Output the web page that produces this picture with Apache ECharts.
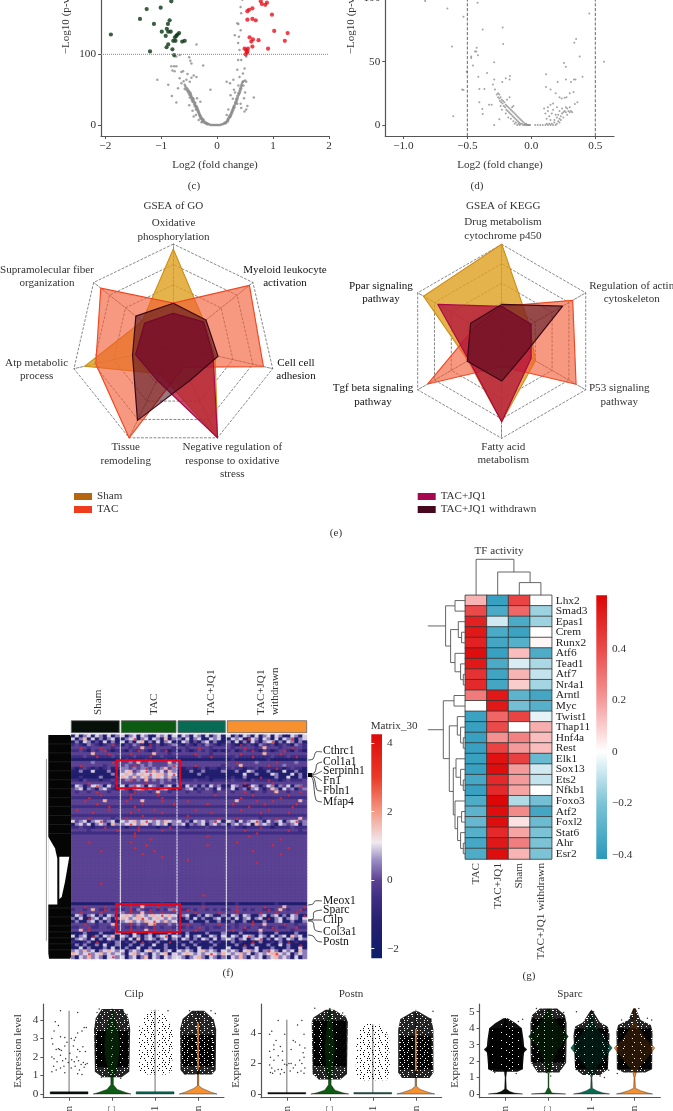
<!DOCTYPE html>
<html><head><meta charset="utf-8">
<style>html,body{margin:0;padding:0;background:#fff}#c{width:673px;height:1111px}</style>
<script src="https://cdn.jsdelivr.net/npm/echarts@6/dist/echarts.min.js"></script></head>
<body><div id="c"></div>
<script>
// ---------- volcano (c)
const cDown=[[-1.9,128],[-1.38,150],[-1.26,164],[-1.01,166],[-.82,175],[-1.13,143],[-.85,148],[-.88,143],[-.99,132],[-.9,136],[-.875,132],[-.83,132],[-.92,126],[-.68,130],[-.71,128],[-.73,126],[-.755,124],[-.785,119],[-.745,119],[-.625,118],[-.58,119],[-.875,114],[-.905,110],[-.8,107],[-1.2,104],[-.77,99]];
const cUp=[[.54,161],[.57,163],[.63,165],[.78,175],[.8,171],[.86,170],[.89,173],[.98,156],[.54,149],[.63,150],[.69,148],[1.02,133],[1.26,130],[1.21,119],[.58,124],[.64,121],[.61,118],[.74,120],[.63,111],[.91,108],[.49,108],[.55,108],[.52,106],[.54,104],[.51,100],[.53,102]];
const cGrey=[[-.12,0],[-.14,1],[-.16,1],[-.17,2],[-.18,1],[-.19,3],[-.2,2],[-.21,4],[-.22,3],[-.23,5],[-.24,6],[-.25,4],[-.25,8],[-.26,7],[-.27,9],[-.27,6],[-.28,10],[-.29,12],[-.29,9],[-.3,13],[-.3,10],[-.31,15],[-.31,12],[-.32,14],[-.32,17],[-.33,16],[-.33,19],[-.34,18],[-.34,21],[-.35,20],[-.35,23],[-.36,22],[-.36,25],[-.37,24],[-.37,27],[-.38,26],[-.38,22],[-.39,28],[-.39,31],[-.4,30],[-.4,26],[-.41,33],[-.41,29],[-.42,32],[-.42,36],[-.43,34],[-.43,38],[-.44,33],[-.44,37],[-.45,39],[-.45,35],[-.46,41],[-.46,37],[-.47,40],[-.47,44],[-.48,42],[-.48,46],[-.49,44],[-.49,39],[-.5,47],[-.5,43],[-.51,48],[-.52,46],[-.52,50],[-.53,48],[-.54,52],[-.55,50],[-.56,53],[-.57,55],[-.58,51],
[-.1,0],[-.08,0],[-.06,0],[-.04,0],[-.02,0],[0,0],[.02,0],[.04,0],[.06,0],[.08,1],[.1,1],[.12,2],[.13,3],[.14,2],[.15,4],[.16,3],[.17,5],[.18,6],[.19,8],[.19,5],[.2,9],[.2,7],[.21,11],[.22,10],[.22,13],[.23,12],[.24,15],[.24,12],[.25,17],[.25,14],[.26,19],[.26,16],[.27,21],[.27,18],[.28,23],[.28,20],[.29,25],[.29,22],[.3,27],[.3,24],[.31,28],[.31,25],[.32,31],[.33,30],[.33,33],[.34,32],[.34,36],[.35,34],[.35,38],[.36,36],[.36,41],[.37,39],[.38,42],[.38,45],[.39,44],[.4,48],[.4,45],[.41,51],[.41,47],[.42,53],[.42,50],[.43,56],[.43,52],[.44,58],[.44,55],[.45,60],[.46,61],[.47,62],
[-.37,114],[-.76,97],[-.73,97],[-.67,99],[-.5,96],[-.48,91],[-.46,87],[-.25,84],[-.82,83],[-.77,83],[-.73,83],[-.8,77],[-.76,76],[-.64,75],[-.61,76],[-1.07,64],[-.875,57],[-.81,41],[-.73,32],[-.12,50],[-.55,64],[-.49,61],[-.46,67],[-.37,68],[-.67,66],[-.64,59],[-.58,57],[-.7,52],[-.6,62],[-.53,72],[-.42,70],[-.28,4],[-.42,12],[-.44,20],[-.5,28],[-.36,38],[-.3,33],[-.38,14],[-.33,7],
[.655,39],[.52,22],[.43,24],[.49,19],[.29,64],[.23,59],[.17,61],[.4,68],[.46,73],[.36,78],[.49,80],[.375,92],[.43,92],[.52,97],[.4,106],[.375,116],[.315,127],[.39,125],[.42,134],[.38,143],[.36,144],[.43,158],[.42,167],[.45,177],[.5,63],[.47,56],[.52,61],[.38,56],[.3,50],[.24,42],[.36,30],[.48,38],[.42,30],[.54,27],[.2,22],[.17,14],[.32,46],[.28,37],[.5,46]];
// ---------- volcano (d)
const dGrey=[[-.83,98],[-.656,92],[-.53,85.5],[-.42,96.6],[-.38,75.5],[-.224,77],[-.22,64],[-.62,62],[.453,88],[.35,68],[.336,65],[.378,54],[.568,50],[.255,49],[.27,46],[-.427,61],[-.44,58],[-.43,58],[-.417,55],[-.47,54],[-.47,53],[-.456,47],[-.29,49.5],[-.505,42],[-.346,41],[-.414,38],[-.29,36],[-.54,28],[-.53,27.6],[-.406,28.4],[-.367,28.4],[-.406,18],[-.383,12.6],[-.38,8.7],[-.61,7],[-.29,0],[-.33,16],[-.31,16],[-.25,4.5],[.115,40],[.206,34],[.115,30],[.15,28],[.27,36],[.333,36],[.345,36],[.31,34],[.4,38],[.33,26],[.3,25],[.19,25],[.22,22],[.26,21.6],[.275,22],[.237,21],[.36,18],[.34,16.6],[-.2,37],[-.167,38.7],[-.17,36],[-.227,34],[-.3,32],[-.284,28],
[-.27,24],[-.26,25],[-.26,22],[-.25,24],[-.25,21],[-.245,19],[-.24,22],[-.235,18],[-.23,20],[-.225,17],[-.22,19],[-.215,15],[-.21,18],[-.205,14],[-.2,16],[-.195,12],[-.19,15],[-.185,11],[-.18,14],[-.175,10],[-.17,13],[-.165,9],[-.16,12],[-.155,8],[-.15,11],[-.145,7],[-.14,10],[-.135,6],[-.13,9],[-.125,5],[-.12,8],[-.115,4],[-.11,7],[-.105,3],[-.1,6],[-.095,2],[-.09,5],[-.085,1],[-.08,4],[-.075,1],[-.07,3],[-.065,0],[-.06,2],[-.055,0],[-.05,1],[-.045,0],[-.04,1],[-.035,0],[-.03,0],[-.025,0],[-.02,0],[-.015,0],[-.01,0],[-.14,3],[-.12,2],[-.1,1],[-.16,5],[-.2,9],[-.23,12],[-.11,0],[-.13,1],[-.09,0],[-.17,22],[-.15,14],[-.14,15],[-.24,15],[-.19,20],[-.18,6],
[.03,0],[.05,0],[.07,0],[.09,0],[.11,0],[.12,1],[.13,0],[.14,1],[.15,0],[.16,1],[.17,0],[.18,2],[.19,0],[.2,1],[.21,3],[.22,5],[.23,7],[.24,9],[.25,10],[.26,11],[.27,10],[.28,13],[.29,11],[.3,10],[.31,11],[.32,10],[.22,2],[.2,6],[.21,8],[.23,4],[.18,4],[.19,8],[.17,12],[.16,9],[.15,4],[.14,7],[.13,11],[.12,5],[.11,9],[.1,13],[.25,6],[.27,14],[.24,13],[.28,8],[.3,14],[.22,11],[.2,14],[.15,16],[.17,17],[.13,14]];
const xNames=['Sham','TAC','TAC+JQ1','TAC+JQ1 withdrawn'];
// ---------- radars
const goAxes=['Oxidative phosphorylation','Supramolecular fiber organization','Atp metabolic process','Tissue remodeling','Negative regulation of response to oxidative stress','Cell cell adhesion','Myeloid leukocyte activation'];
const goSham=[.95,.39,.89,.3,1,.42,.385];
const goTac=[.42,.91,.78,1,.23,.907,.955];
const goJq1=[.32,.36,.38,.37,1,.4,.38];
const goWd=[.42,.47,.41,.81,.375,.45,.41];
const keggAxes=['Drug metabolism cytochrome p450','Ppar signaling pathway','Tgf beta signaling pathway','Fatty acid metabolism','P53 signaling pathway','Regulation of actin cytoskeleton'];
const keggSham=[1,.93,.4,.83,.4,.33];
const keggTac=[.36,.31,.88,.26,.885,.845];
const keggJq1=[.36,.76,.39,.83,.35,.35];
const keggWd=[.38,.37,.41,.41,.27,.725];
// ---------- heatmap (f): one character per cell, one chunk per group, short chunks repeat their last character
const fKey={n:-1.4,d:-.5,p:0,l:.45,w:.95,s:1.7,r:3.8};
const fCells=[12,14,12,20];
const fTicks=[-2,0,2,4];
const fRows=[
"nwnlwnwlnwnl wnlwnwlnnwlwnw nwlnwlnwnlwn wnlnwlnwnlwnwlnnwlnw",
"wnlsnwnlnlwn nlwrnlwnwlnsnl lnwnlwnnwlwn nwlwnrwlnwlnwnwlrnlw",
"nlnwlnpnwnln wnlnwsnlnwnlwn nwlnpnlwnlnn lnwnlnwpnlwrnlnwlnln",
"dpdnlpdndprd npdlpdnrdpndpl dnpdnpdlpdnd pdnrdpdnlpdpndpdnlpd",
"pprpdpprppdp ppdppsppdppppd ppdpprppdppp pdpprppdpspppdpprppd",
"ddpdnpdprdnd dnpdrpdndpdrnd npdndpdpdndn dpndpdrdnpdndprdnpdn",
"pppppsppprpp pprpppppspppdp pppprpppdppp ppprpppppsppprpppppp",
"dddpddrdddpd dddpdddrddpddd dddddpddrddd ddpdddrddddpdddpdrdd",
"nnnnnnnnnnnn ndnnnndnnnndnn nnnnnnnnnnnn ndnnnnnnnndnnnnnnnnn",
"ppppplpppprp pplpspplppppsp pppppppppppp pprpppplpppprpppplpp",
"pprpppppdppp plprplplpppplr pppprppppppd pppspppppprppplppppp",
"dndpdndndpnd llplplrplplspl dnddndpnddnd dpddnddpndddrdndpddn",
"nnlnnwnnnlnn lwsplwrlslwpsl nnnlnnlnnnnl nnlnnwlnnnlnnnwnnlnn",
"nnnnnnnnnnln wswlwswrwsslwr nnnnnlnnnnnn nnnnwnnlnnnwlnnnwnln",
"nndnnnnlnnnd swlslwslwswlsl nnnnnnndnnnn ndnnlnnnrnnnlnnwnnln",
"ddnpdddnddpd plrplpsplplpld ddddpdddnddd dpdddnpdddrddndpdddp",
"pppprpppppdp pppppprppplppp pppppppppppp pppprpppppprpppppppp",
"nwlnpwrlnwpn wnlrwlnwlpnlwn lnwplnlnwpln nwlpnrwlnpwlnlpwnlrp",
"plwnlpnlwpdn lpnlwrplpnlwpn nplwnpdlpnwd pwnplnlwpnpslnwplnpl",
"pdppdprppdpp ppdrpppdpsppdp ppdppdpppdpp pdpprpdppdppsppdpprp",
"ppppppprpppp pprpppppprpppp ppppppppprpp pppppprpppppppprpppp",
"ddddrddddddd ddrdddddddrddd dddddddddddd dddrdddddddddrdddddd",
"ppprppppsppp prpppspppprppp pprppppppppp ppspppprppprppppppsp",
"pppppprppppp ppppprpppppppr ppppppprpppp prppppppprppppppprpp",
"dddddddddrdd dddrdddddddddd dddddddddddd dddddrddddddddddrddd",
"prppppppprpp pppprppprppppp pppprppppppp ppprpppppprppppppppp",
"ppppprpppppp pprppppppprppp pppppppprppp pppppppprpppppprpppp",
"dddddddddddd dddddrdddddddd ddrddddddddd dddddddddddddddddddd",
"pppprpppppdp prpppppprppppp pppppppppprp pprpppppdppprpppppsp",
"wplwnlwrplwn wlwslwrwlwlswl wplnwlwplrwn wlnwplwrlnwplwnlwrpl",
"nlwpwnlwlnsl lwrwlswplwlwnl lwnlplwnlwpl nlwplwnslwlpnwlplwnl",
"ddpddnddrddd dnddrddddnddrd ddnddddpdddd dpddndddrddnddddpddd",
"ppppdppppppr pppprppppprppp pppppppppppp pppprpppppppppprppdp",
"dddddddddddd dddrdddddddddd dddddddddddd dddddddrdddddddddddd",
"pppppppppppp ppprpppp ppppppprpp ppppprpppppppppp",
"pppppppppppp ppppppprp pppppppppp ppppppppppppprppp",
"pppprppppppp pprpppppp pppppppppp pprpppppp",
"pppppppppppp pppppprppp ppppppprppp ppppppppppprp",
"pppppppppppp ppprp pppppppp ppppppppppppppprp",
"ppppppprpppp pppppppprp pp pppppprp",
"p ppppprp p ppppppppppppprp",
"p pppppppppprp p p",
"p p pprp p",
"p p p ppppppprp",
"p p p p","p p p p",
"p p ppppp p",
"p p p p","p p p p","p p p p",
"ppppppprp p p p",
"p p p p","p p p p","p p p p",
"p p pppppprp p",
"p p p p","p p p p",
"nnnnnnnnnnnd nndnnnnnnndnnn nnnnnndnnnnn nndnnnnnnnnndnnnnnnn",
"ppprpppprppp pprppsppprpprp pppppprppppp pprpppppprppppsppppr",
"dppdpspdrpdd dprdlpdrpdpdlr pdrpdppdpdpd dprpdpdppdrdpspdpprd",
"pprpppprpppp lprppsprpprppp pppprppppprp pprppppprppprpppprpp",
"nwlnlwnlnwln wswlswlwswrwsw nlwnnlnwlnnl nwlnwlnnlwnlwnlnwlnr",
"lnwnrlwnwlnl swlwsrwlwswlwl nnlnwnlnnlwn lnwnlwnlwnrnlwnlwlnw",
"nlnnlwnlnlnn lwslwlswrwlslw nnnlnnnlnnln nlnnlnrnnlnnlwnnlnnl",
"ppprppdpppsp pprplppsrppplp pprpppdppprp ppdppprppspppprppdpp",
"ddpprddppdpd pdrdpdpdrpdppd ddpdprpdpddp dpdprdppdpdrpddpprdd",
"ppsprpppppdp pprpppsprppprp pppprppdpppp prppdpppsppprpppdppp",
"nnnlnnnlnnnl nnnwnnnlnnnnln nnlnnnnlnnnl nnnlnnnnlnnnlnnnnlnn",
"wnlwnrlnwlsn wlnwlnlwnlwrnw lnwnlwnnwlnw nwlnwrlnwlnwnlwnslwn",
"nlwlnwnlnwln lnwnsnlwlnlwnl nwlnlnwlnwnl wlnlwnlwrnlnwlnwlnwl",
"dnndlnrnndnl ndnlnrndnlnnrn dnnlndnnlndn nlndnnrnlnndnlnrndnn",
"nlnlnnlnwnnl nnlnnlnnwnnlnn nlnnlnnnnlnn nnlnrnlnnnlnnwnlnnrn",
"nnwnlnnnlnwn nlnnwnnlnnnlnn nnlnnwnnlnnn wnnnlnnwnnnlnnnlnnwn",
"lwlslwnlwswl wnlwlnwslwnlwn wlwlnwslwlnw lwlnwslwnlrwlnwlwnsl",
"swlwrlwslwlw lnwslwlnwlwsnw lwswlwlwrwls wlwslwnlwlwsrwlwnlwl",
"lnwlslwlnwrl wnlwnlsnwlnwlw wlnlwslnwlnl nwlslnwlwnlwslwlnwnl"];
const dendroCut=[[2.7,0],[1,0],[0,.6],[0,74.4],[1,75],[22,75],[22.7,73],[22.7,0]];
const dendroGapA=[[22.9,34],[16,38],[13.7,41.4],[13.7,56.8],[22.9,56.8]];
const dendroGapB=[[11.7,40.8],[1.7,40.8],[6,49.2],[9.3,54.3],[11.7,55]];
const dendroStripes=[3,6,9,12,15,18,21,24,27,30,33,58,61,64,66,68,70,72];
// ---------- heatmap (g)
const tfNames=['Lhx2','Smad3','Epas1','Crem','Runx2','Atf6','Tead1','Atf7','Nr4a1','Arntl','Myc','Twist1','Thap11','Hnf4a','Rest','Elk1','Sox13','Ets2','Nfkb1','Foxo3','Atf2','Foxl2','Stat6','Ahr','Esr2'];
const tfCols=['TAC','TAC+JQ1','Sham','TAC+JQ1 withdrawn'];
const tfTac=[.15,.4,.52,.55,.52,.58,.55,.47,.5,.28,0,-.37,-.38,-.38,-.38,-.38,-.38,-.34,-.38,-.32,-.28,-.26,-.3,-.34,-.32];
const tfJq1=[-.38,-.33,-.07,-.33,-.35,-.38,-.33,-.36,-.35,.55,.55,.33,.4,.22,.42,.57,.58,.5,.5,.6,.58,.58,.5,.55,.58];
const tfSham=[.42,.33,-.33,-.37,-.3,.13,-.06,.15,.1,-.28,-.22,.42,0,.26,.2,.43,.2,.2,.18,-.12,.24,.06,.18,.27,.15];
const tfWd=[0,-.15,-.15,0,.02,-.32,-.13,-.09,-.14,-.35,-.3,-.04,.16,.13,.13,-.25,-.07,-.09,0,-.22,-.35,-.24,-.2,-.2,-.2];
const gTicks=[-.4,-.2,0,.2,.4];
// hclust-style merges: negative = leaf row, positive = earlier merge (1-based); last value = height
const rowMerges=[[-4,-5,3.7],[-3,1,7],[-8,-9,2],[-7,3,4.7],[-6,4,10.3],[2,5,14.7],[-1,-2,10.3],[7,6,19.7],[-10,-11,11.3],[-14,-15,2],[-13,10,4.7],[-12,11,8],[-18,-19,2],[-17,13,4.7],[-16,14,9.3],[-21,-22,3.7],[-24,-25,2],[-23,17,4.7],[16,18,7.7],[-20,19,10.3],[15,20,12],[12,21,16],[9,22,22]];
const rowStemHeight=37.5;
const colMerges=[[-3,-4,12.7],[-2,1,23.3],[-1,2,36]];
// ---------- violins (level, half-width) per group
const violinCilp=[[[0,.44],[.12,.44],[.12,0]],[[0,.44],[.08,.32],[.25,.12],[.5,.03],[.9,.03],[1.2,.08],[2,.16],[2.7,.18],[3.4,.14],[4,.05],[4.6,.01]],[[0,.44],[.12,.44],[.12,0]],[[0,.44],[.1,.3],[.3,.1],[.45,.015],[1.3,.015],[1.6,.02],[3.8,.02],[3.9,0]]];
const violinPostn=[[[0,.44],[.1,.44],[.1,0]],[[0,.44],[.08,.3],[.25,.12],[.6,.03],[1,.03],[1.5,.08],[3,.12],[4.5,.07],[5.1,.03],[5.6,.01]],[[0,.44],[.1,.44],[.1,0]],[[0,.44],[.1,.3],[.3,.1],[.5,.015],[1.5,.015],[1.8,.02],[4.2,.02],[4.3,0]]];
const violinSparc=[[[0,.4],[.06,.2],[.15,.1],[.3,.02],[1,.01],[1.4,.03],[2,.2],[2.7,.5],[3.4,.2],[4,.06],[4.6,.01]],[[0,.4],[.06,.08],[.2,.05],[.4,.01],[1.2,.01],[1.7,.06],[2.6,.2],[3.5,.46],[4.3,.2],[4.8,.08],[5.2,.01]],[[0,.42],[.08,.25],[.2,.12],[.35,.02],[1,.01],[1.4,.06],[2.2,.3],[2.8,.48],[3.4,.3],[4,.14],[4.3,.05],[5.1,.01]],[[0,.42],[.07,.3],[.2,.14],[.35,.02],[1,.01],[1.4,.05],[2.2,.3],[2.8,.47],[3.4,.25],[4,.12],[4.4,.03],[5.2,.01]]];
const spikeCilp=[4.5,0,4.55,4.5], spikePostn=[4.85,0,4.55,5.5], spikeSparc=[0,0,0,0];
const cloudCilp=[null,[[.9,.22],[1.2,.4],[3.5,.42],[4.1,.38],[4.6,.24]],[[1.05,.28],[1.3,.4],[3.4,.41],[3.9,.32],[4.5,.12]],[[1.05,.32],[1.3,.41],[3.5,.42],[4.05,.36],[4.5,.14]]];
const coreCilp=[null,[[1.45,.38],[3.4,.38]],[[1.45,.38],[1.8,.38]],[[1.5,.38],[3.2,.38]]];
const cloudPostn=[null,[[.95,.25],[1.3,.4],[4.7,.42],[5.0,.38],[5.5,.1]],[[.9,.32],[1.3,.4],[3.6,.38],[4.2,.3],[4.6,.12]],[[1.05,.32],[1.4,.41],[4.2,.41],[4.9,.36],[5.4,.05]]];
const corePostn=[null,[[1.8,.38],[4.8,.38]],[[1.3,.38],[2.4,.38]],[[1.6,.38],[3.8,.36]]];
const cloudSparc=[[[1.35,.28],[1.5,.4],[2.2,.42],[2.7,.44],[3.3,.42],[4,.38],[4.3,.24],[4.6,.05]],[[1.3,.25],[1.9,.41],[3,.42],[4.3,.42],[4.8,.38],[5.2,.2]],[[1.15,.2],[1.5,.38],[3.6,.42],[4.1,.38],[4.35,.2],[5.05,.03]],[[1.3,.25],[1.5,.41],[3.8,.42],[4.2,.38],[4.5,.14],[5.2,.03]]];
const coreSparc=[[[1.5,.4],[4,.36]],[[1.9,.38],[4.6,.38]],[[1.5,.38],[4,.38]],[[1.5,.38],[4,.38]]];
const pointsCilp=[[-.2,4.5],[.2,4.4],[-.35,3.4],[-.25,3.7],[.35,3.6],[.2,3.3],[.3,3.4],[.4,3.6],[-.4,3],[-.2,3.1],[-.1,3.05],[.05,3],[.15,3.05],[-.38,2.7],[-.3,2.4],[-.25,2.45],[-.22,2.4],[-.18,2.35],[-.1,2.6],[.1,2.6],[.2,2.4],[.25,2.3],[.32,2.55],[.38,2.3],[-.4,2],[-.35,1.9],[-.28,1.75],[-.2,2.1],[-.15,1.8],[-.08,1.9],[-.02,1.7],[.06,1.85],[.12,1.75],[.18,2],[.22,1.8],[.28,1.6],[.33,1.7],[.38,1.6],[.42,1.65],[-.4,1.2],[-.36,1.5],[-.3,1.3],[-.2,1.4],[-.12,1.5],[-.1,1.15],[.05,1.4],[.14,1.5],[.2,1.1],[.24,1.3],[.3,1.05],[.35,1.45],[-.32,3.9],[-.05,2.8],[.02,2.2],[.12,2.9],
[.7,4.6],[1.25,4.55],[1.35,4.3],[.65,4.4],[2.3,4.5],[3.3,4.5],[2.8,4.5],[.75,.9],[1.2,.85],[.9,.95],[2.7,1.1],[3.1,4.3],[3.4,4.35],[2.85,4.2],[2.95,4.4]];
const pointsPostn=[[-.2,4.8],[.25,4.5],[.35,4.8],[-.35,4.1],[-.4,3.9],[-.05,3.9],[.4,3.9],[-.3,3.2],[-.25,3.5],[-.15,3.1],[.15,3.5],[.2,3.4],[.3,3.2],[-.4,2.8],[-.3,2.9],[-.1,2.8],[.1,2.9],[.38,2.7],[.42,3],[-.38,2.4],[-.3,2.2],[-.2,2.5],[-.1,2.2],[-.05,1.95],[0,1.9],[.05,2],[.1,2],[.2,1.9],[.3,2.2],[.35,2],[.4,2.4],[-.4,1.9],[-.35,1.7],[-.38,1.4],[-.33,1.35],[-.28,1.5],[-.2,1.6],[-.12,1.6],[-.06,1.4],[.08,1.5],[.15,1.7],[.25,1.4],[.33,1.5],[.4,1.35],[.42,1.7],[-.15,1.3],
[.65,5.6],[1.3,5.3],[1.35,5.1],[.75,1],[1.2,1.05],[3.1,5],[3.4,5.4],[2.75,5],[3.35,4.9]];
const pointsSparc=[[-.35,3.9],[.3,4.4],[.4,4.55],[1.2,5.1],[.72,5.2],[1.35,4.95],[.85,5],[1.05,1.1],[.95,1.3],[1.2,1.45],[1.65,5],[2.05,5],[2.2,1.1],[2.3,1],[2.1,1.35],[2.4,1.45],[2.7,4.5],[2.95,4.6],[3.1,5.2],[3.3,4.6],[3.4,4.5],[2.6,1.25],[3.2,1.45],[-.25,1.3],[.25,1.25]];
const groupColors=['#061009','#0d5a12','#076b53','#f7902f'];
const overlayLow=[0,.35,.35,.85], overlayHigh=[0,.22,.2,.15];

// ---------- helpers
const FONT='"Liberation Serif",serif', INK='#333', MINUS=v=>String(v).replace('-','\u2212');
const grid=[],xAxis=[],yAxis=[],series=[],graphic=[];
function addGrid(r,x,y){grid.push(Object.assign({outerBoundsMode:'none',containLabel:false},r));xAxis.push(Object.assign({gridIndex:grid.length-1},x));yAxis.push(Object.assign({gridIndex:grid.length-1},y));return grid.length-1;}
const HID={type:'value',show:false};
function txt(x,y,t,o){o=o||{};graphic.push({type:'text',x,y,rotation:o.rot||0,silent:true,z:50,style:{text:t,font:(o.w||'normal')+' '+(o.size||11.1)+'px '+FONT,fill:o.fill||INK,align:o.align||'center',verticalAlign:'middle',lineHeight:o.lh||13.4}});}
function hexLerp(a,b,t){const p=h=>[1,3,5].map(i=>parseInt(h.substr(i,2),16));const A=p(a),B=p(b);return 'rgb('+A.map((v,i)=>Math.round(v+(B[i]-v)*t)).join(',')+')';}
function ramp(stops,v){if(v<=stops[0][0])return stops[0][1];for(let i=1;i<stops.length;i++)if(v<=stops[i][0])return hexLerp(stops[i-1][1],stops[i][1],(v-stops[i-1][0])/(stops[i][0]-stops[i-1][0]));return stops[stops.length-1][1];}
function poly(gi,list,z,extra){series.push(Object.assign({type:'custom',xAxisIndex:gi,yAxisIndex:gi,z:z||2,silent:true,data:list.map((s,i)=>[i]),renderItem:(p,api)=>{const s=list[p.dataIndex];return {type:'polygon',shape:{points:s.pts.map(q=>api.coord(q))},style:Object.assign({fill:s.fill,stroke:s.stroke||null,lineWidth:s.lw||0,opacity:s.op==null?1:s.op},s.decal?{decal:s.decal}:{})};}},extra||{}));}
function segs(gi,list,style,z){series.push({type:'custom',xAxisIndex:gi,yAxisIndex:gi,z:z||2,silent:true,data:list,renderItem:(p,api)=>{const a=api.coord([api.value(0),api.value(1)]),b=api.coord([api.value(2),api.value(3)]);return {type:'line',shape:{x1:a[0],y1:a[1],x2:b[0],y2:b[1]},style:style};}});}
const axLine={onZero:false,lineStyle:{color:'#555',width:1.2}},axTick={length:3,lineStyle:{color:'#555',width:1}};
const axLab=(fmt,extra)=>Object.assign({color:INK,fontFamily:FONT,fontSize:11.2,margin:5,formatter:fmt||MINUS},extra||{});

// ---------- volcano panels
function volcano(r,xr,yr,xt,yt){return addGrid(r,
 {type:'value',min:xr[0],max:xr[1],axisLine:axLine,axisTick:Object.assign({customValues:xt},axTick),axisLabel:axLab(MINUS,{customValues:xt}),splitLine:{show:false}},
 {type:'value',min:yr[0],max:yr[1],axisLine:axLine,axisTick:Object.assign({customValues:yt},axTick),axisLabel:axLab(MINUS,{customValues:yt}),splitLine:{show:false}});}
const gc=volcano({left:101,top:-20,width:228,height:156},[-2.077,2],[-15.56,205.1],[-2,-1,0,1,2],[0,100]);
const gd=volcano({left:385.3,top:-20,width:228.7,height:156},[-1.141,.646],[-8.69,114.5],[-1,-.5,0,.5],[0,50,100]);
const xt2=v=>MINUS(Number(v).toFixed(1));
xAxis[gd].axisLabel.formatter=xt2;
series.push({type:'scatter',xAxisIndex:gc,yAxisIndex:gc,data:cGrey,symbolSize:2.5,itemStyle:{color:'#8c8c8c'},silent:true});
series.push({type:'scatter',xAxisIndex:gc,yAxisIndex:gc,data:cDown,symbolSize:4.2,itemStyle:{color:'#0a3512'},silent:true});
series.push({type:'scatter',xAxisIndex:gc,yAxisIndex:gc,data:cUp,symbolSize:4.2,itemStyle:{color:'#e8101c'},silent:true});
series.push({type:'line',xAxisIndex:gc,yAxisIndex:gc,data:[[-2.077,100],[2,100]],symbol:'none',silent:true,lineStyle:{type:'dotted',color:'#888',width:1}});
series.push({type:'scatter',xAxisIndex:gd,yAxisIndex:gd,data:dGrey,symbolSize:2,itemStyle:{color:'#8c8c8c'},silent:true});
[-.5,.5].forEach(v=>series.push({type:'line',xAxisIndex:gd,yAxisIndex:gd,data:[[v,-8.69],[v,114.5]],symbol:'none',silent:true,lineStyle:{type:'dashed',color:'#444',width:.8}}));
txt(66,15,'\u2212Log10 (p-value)',{rot:Math.PI/2});txt(351,15,'\u2212Log10 (p-value)',{rot:Math.PI/2});
txt(215,165,'Log2 (fold change)');txt(500,165,'Log2 (fold change)');
txt(194,186,'(c)');txt(477,186,'(d)');

// ---------- radars
const groupNames=['Sham','TAC','TAC+JQ1','TAC+JQ1 withdrawn'];
const radarStroke=['#c9820f','#f0421c','#a6094f','#3d0716'], radarFill=['rgba(222,160,30,.8)','rgba(240,90,50,.62)','rgba(176,12,60,.75)','rgba(70,8,25,.55)'], swatch=['#b5650f','#ee3c1c','#a6094f','#45081e'];
const radarBase={startAngle:90,splitNumber:5,shape:'polygon',axisName:{show:false},axisLine:{lineStyle:{type:'dashed',color:'#555',width:.7}},splitLine:{lineStyle:{type:'dashed',color:'#555',width:.7}},splitArea:{show:false}};
const radar=[
 Object.assign({center:[173.3,346],radius:101.9,indicator:goAxes.map(name=>({name,min:0,max:1}))},radarBase),
 Object.assign({center:[501.7,341.3],radius:97,indicator:keggAxes.map(name=>({name,min:0,max:1}))},radarBase)];
[[goSham,goTac,goJq1,goWd],[keggSham,keggTac,keggJq1,keggWd]].forEach((set,ri)=>set.forEach((v,i)=>series.push({type:'radar',radarIndex:ri,symbol:'none',silent:true,z:3+i,
  data:[{name:groupNames[i],value:v,itemStyle:{color:swatch[i]},lineStyle:{color:radarStroke[i],width:1.2},areaStyle:{color:radarFill[i],opacity:1}}]})));
txt(173.3,205.7,'GSEA of GO');txt(503.3,205.7,'GSEA of KEGG');
const D='#111';
txt(173.5,230,'Oxidative\nphosphorylation');
txt(47,276.7,'Supramolecular fiber\norganization');
txt(285,276.7,'Myeloid leukocyte\nactivation',{fill:D});
txt(36.7,369.3,'Atp metabolic\nprocess');
txt(296,369.3,'Cell cell\nadhesion',{fill:D});
txt(125.7,454,'Tissue\nremodeling');
txt(232.3,460.7,'Negative regulation of\nresponse to oxidative\nstress');
txt(503,229.2,'Drug metabolism\ncytochrome p450');
txt(631.7,292.8,'Regulation of actin\ncytoskeleton');
txt(619.3,395,'P53 signaling\npathway');
txt(503.3,453.3,'Fatty acid\nmetabolism');
txt(373,395,'Tgf beta signaling\npathway',{fill:D});
txt(381,292.8,'Ppar signaling\npathway',{fill:D});
txt(336,533,'(e)');
const legendText={fontFamily:FONT,fontSize:11.1,color:INK};
const legend=[
 {left:69,top:486,orient:'vertical',data:groupNames.slice(0,2),itemWidth:18,itemHeight:7,itemGap:2,icon:'rect',selectedMode:false,textStyle:legendText},
 {left:412.7,top:486,orient:'vertical',data:groupNames.slice(2),itemWidth:18,itemHeight:7,itemGap:2,icon:'rect',selectedMode:false,textStyle:legendText}];

// ---------- heatmap f
const fStops=[[-2.28,'#0b1d6a'],[-1.2,'#26206f'],[-.5,'#3f2f84'],[0,'#5b4293'],[.6,'#9c8fc4'],[1.1,'#f0eaf0'],[2,'#f49a85'],[3,'#ea3a28'],[4.26,'#dc0a0a']];
const fLeft=[71.3,121.3,178,227.3],fWidth=[48,54.7,47.3,79.4];
fCells.forEach((n,g)=>{
 const gi=addGrid({left:fLeft[g],top:735,width:fWidth[g],height:223.7},
  {type:'category',show:false,data:Array.from({length:n},(_,i)=>i)},
  {type:'category',show:false,inverse:true,data:fRows.map((_,i)=>i)});
 const data=[],dots=[];
 fRows.forEach((row,r)=>{const c=row.split(' ')[g];for(let i=0;i<n;i++){let ch=c[i]||c[c.length-1];
   if(ch==='r'){dots.push([i,r]);ch=(c[i-1]&&c[i-1]!=='r')?c[i-1]:'p';}
   const col=ramp(fStops,fKey[ch]);data.push({value:[i,r,fKey[ch]],itemStyle:{color:col,borderColor:col,borderWidth:.5}});}});
 series.push({type:'heatmap',xAxisIndex:gi,yAxisIndex:gi,data,silent:true,progressive:0});
 series.push({type:'scatter',xAxisIndex:gi,yAxisIndex:gi,data:dots,symbolSize:2.6,itemStyle:{color:'#e3272b'},silent:true,z:4});
});
// header bars
const gh=addGrid({left:71.3,top:720.7,width:235.4,height:12},{...HID,min:71.3,max:306.7},{...HID,min:0,max:1});
poly(gh,groupColors.map((c,i)=>({fill:c,stroke:'#666',lw:.8,pts:[[fLeft[i],0],[fLeft[i]+fWidth[i],0],[fLeft[i]+fWidth[i],1],[fLeft[i],1]]})),3);
// row dendrogram of f
const gdf=addGrid({left:45,top:735,width:26,height:223.7},{...HID,inverse:true,min:0,max:26},{...HID,inverse:true,min:0,max:75});
poly(gdf,[{fill:'#050505',pts:dendroCut}],2);
segs(gdf,dendroStripes.map(r=>[0,r,22,r]),{stroke:'#2a2a2a',lineWidth:.6},3);
poly(gdf,[{fill:'#fff',pts:dendroGapA},{fill:'#fff',pts:dendroGapB}],4);
segs(gdf,[[24.6,8,24.6,69]],{stroke:'#999',lineWidth:1},3);
// colour bar
function colourBar(r,lo,hi,stops,ticks,dash){
 const gi=addGrid(r,{...HID,min:0,max:1},{type:'value',min:lo,max:hi,position:'right',axisLine:{show:false},splitLine:{show:false},z:5,
   axisTick:dash?{customValues:ticks,inside:true,length:3,lineStyle:{color:'#fff',width:1}}:{show:false},
   axisLabel:axLab(MINUS,{customValues:ticks,margin:5})});
 const colorStops=stops.map(s=>({offset:(hi-s[0])/(hi-lo),color:s[1]})).reverse();
 series.push({type:'custom',xAxisIndex:gi,yAxisIndex:gi,silent:true,z:1,data:[[0]],renderItem:(p,api)=>{const a=api.coord([0,hi]),b=api.coord([1,lo]);return {type:'rect',shape:{x:a[0],y:a[1],width:b[0]-a[0],height:b[1]-a[1]},style:{fill:new echarts.graphic.LinearGradient(0,0,0,1,colorStops)}};}});
 return gi;}
colourBar({left:371.3,top:734.3,width:10.7,height:224},-2.28,4.26,fStops,fTicks,true);
addGrid({left:371.3,top:734.3,width:10.7,height:224},{...HID,min:0,max:1},{type:'value',min:-2.28,max:4.26,position:'left',axisLine:{show:false},splitLine:{show:false},axisLabel:{show:false},axisTick:{customValues:fTicks,inside:true,length:3,lineStyle:{color:'#fff',width:1}},z:5});
txt(370.7,726,'Matrix_30',{align:'left'});
const up={rot:Math.PI/2,align:'left'};
txt(98,715,'Sham',up);txt(154.3,715,'TAC',up);txt(211,715,'TAC+JQ1',up);
txt(268,715,'TAC+JQ1\nwithdrawn',{rot:Math.PI/2,align:'left',lh:14.5});
const genes=[['Cthrc1',751],['Col1a1',762],['Serpinh1',771],['Fn1',781],['Fbln1',791],['Mfap4',801.5],['Meox1',901],['Sparc',910],['Cilp',920],['Col3a1',932],['Postn',942]];
genes.forEach(g=>txt(323,g[1],g[0],{align:'left',fill:'#111',size:11.6}));
const links=[[[308,760],[313,759],[316,752],[322,752]],[[310,775],[315,772],[317,764],[322,762]],[[310,775],[316,774],[322,771]],[[310,775],[316,777],[322,781]],[[310,775],[314,778],[317,790],[322,791]],[[310,775],[313,780],[316,800],[322,802]],[[308,905],[313,904],[315,901],[322,901]],[[308,920],[313,919],[314,912],[322,910]],[[308,920],[322,920]],[[308,921],[313,922],[315,930],[322,932]],[[308,935],[313,936],[317,941],[322,942]]];
links.forEach(p=>graphic.push({type:'polyline',silent:true,z:50,shape:{points:p,smooth:.3},style:{stroke:'#222',lineWidth:.8,fill:null}}));
graphic.push({type:'rect',silent:true,z:50,shape:{x:308,y:773,width:4,height:4},style:{fill:'#000'}});
[760.3,904].forEach(y=>graphic.push({type:'rect',silent:true,z:50,shape:{x:116.7,y,width:63.3,height:28},style:{fill:null,stroke:'#e3061c',lineWidth:2}}));
txt(228,973,'(f)');

// ---------- heatmap g
const gStops=[[-.416,'#2b99bb'],[-.2,'#7cc3d6'],[0,'#ffffff'],[.2,'#f59a9a'],[.4,'#ea4a4a'],[.607,'#dc0505']];
const gg=addGrid({left:465.3,top:595.3,width:86.4,height:263.7},
 {type:'category',data:tfCols,axisLine:{show:false},axisTick:{show:false},axisLabel:{color:INK,fontFamily:FONT,fontSize:11.2,rotate:90,margin:4}},
 {type:'category',inverse:true,position:'right',data:tfNames,axisLine:{show:false},axisTick:{show:false},axisLabel:{color:'#222',fontFamily:FONT,fontSize:11.4,margin:4,interval:0}});
const tfData=[];
[tfTac,tfJq1,tfSham,tfWd].forEach((col,c)=>col.forEach((v,r)=>tfData.push({value:[c,r,v],itemStyle:{color:ramp(gStops,v),borderColor:'#333',borderWidth:.8}})));
series.push({type:'heatmap',xAxisIndex:gg,yAxisIndex:gg,data:tfData,silent:true});
colourBar({left:596.3,top:595.3,width:10.7,height:263.7},-.416,.607,gStops,gTicks,false);
function tree(merges){const pos=[],out=[];const at=c=>c<0?{p:-c-.5,h:0}:pos[c-1];merges.forEach(m=>{const a=at(m[0]),b=at(m[1]);out.push([a.h,a.p,m[2],a.p],[b.h,b.p,m[2],b.p],[m[2],a.p,m[2],b.p]);pos.push({p:(a.p+b.p)/2,h:m[2]});});return {segs:out,pos};}
const rTree=tree(rowMerges);
// the two top-level clusters hang from stems whose joining root lies outside the picture
const rSegs=rTree.segs.concat([7,22].map(i=>[rTree.pos[i].h,rTree.pos[i].p,rowStemHeight,rTree.pos[i].p]));
const grd=addGrid({left:425,top:595.3,width:40.3,height:263.7},{...HID,inverse:true,min:0,max:40.3},{...HID,inverse:true,min:0,max:25});
segs(grd,rSegs,{stroke:'#555',lineWidth:.9});
const cTree=tree(colMerges);
const gcd=addGrid({left:465.3,top:555,width:86.4,height:40.3},{...HID,min:0,max:4},{...HID,min:0,max:40.3});
segs(gcd,cTree.segs.map(s=>[s[1],s[0],s[3],s[2]]),{stroke:'#555',lineWidth:.9});
txt(499,551,'TF activity');
txt(529,976,'(g)');

// ---------- violins
const mk=(a,b,c)=>({symbol:'rect',symbolSize:1,color:c,dashArrayX:a,dashArrayY:b});
const decalDense=mk([[1,11,1,19,1,7],[0,6,1,14,1,23],[1,25,1,5],[0,15,1,9,1,12]],[1,1],'#fff');
const decalMid=mk([[1,3,1,6,2,4,1,2],[0,2,1,5,1,3,1,7],[1,7,2,2,1,4],[0,4,1,2,1,8,1,3]],[1,1],'#fff');
const decalSparse=mk([[1,2,1,5,1,3,1,4],[0,4,1,3,1,6,1,2],[1,6,1,1,1,4,1,3],[0,1,1,5,1,2,1,7],[1,3,1,7,1,2],[0,6,1,4,1,3,1,1]],[1,1],'#000');
function mirror(c,env){const r=env.map(e=>[c+e[1],e[0]]),l=env.slice().reverse().map(e=>[c-e[1],e[0]]);return r.concat(l);}
function violinPanel(left,yr,ticks,shapes,spikes,clouds,cores,points,cloudStyle,overlay){
 const gi=addGrid({left,top:1004,width:180.6,height:93.7},
  {type:'value',min:-.6,max:3.6,axisLine:axLine,axisTick:Object.assign({customValues:[0,1,2,3]},axTick),splitLine:{show:false},axisLabel:{customValues:[0,1,2,3],formatter:v=>xNames[v],rotate:90,margin:8,color:INK,fontFamily:FONT,fontSize:11.2}},
  {type:'value',min:yr[0],max:yr[1],axisLine:axLine,axisTick:Object.assign({customValues:ticks},axTick),splitLine:{show:false},axisLabel:axLab(String,{customValues:ticks})});
 segs(gi,spikes.map((t,i)=>[i,0,i,t]).filter(s=>s[3]>0),{stroke:'#8f8f8f',lineWidth:1.3},2);
 poly(gi,shapes.map((e,i)=>({fill:groupColors[i],stroke:'#111',lw:.4,pts:mirror(i,e)})),3);
 const cl=[];clouds.forEach((e,i)=>{if(e)cl.push(Object.assign({pts:mirror(i,e)},cloudStyle[i][0]));});
 poly(gi,cl,4);
 const co=[];cores.forEach((e,i)=>{if(e)co.push(Object.assign({pts:mirror(i,e)},cloudStyle[i][1]));});
 poly(gi,co,5);
 poly(gi,shapes.map((e,i)=>({fill:groupColors[i],op:overlay[i],pts:mirror(i,e.filter(q=>q[0]>.5))})).filter(s=>s.pts.length&&s.op>0),6);
 series.push({type:'scatter',xAxisIndex:gi,yAxisIndex:gi,data:points,symbolSize:1.5,itemStyle:{color:'#000'},silent:true,z:7});
 return gi;}
const S={fill:'rgba(255,255,255,0)',decal:decalSparse},M={fill:'rgba(0,0,0,.86)',decal:decalMid},H={fill:'rgba(0,0,0,.94)',decal:decalDense},N={fill:'rgba(0,0,0,0)'};
const styleLow=[[S,N],[M,H],[S,S],[M,M]];
const styleHigh=[[H,H],[M,H],[M,H],[M,H]];
violinPanel(43.3,[-.2,4.865],[0,1,2,3,4],violinCilp,spikeCilp,cloudCilp,coreCilp,pointsCilp,styleLow,overlayLow);
violinPanel(261,[-.242,5.88],[0,2,4],violinPostn,spikePostn,cloudPostn,corePostn,pointsPostn,styleLow,overlayLow);
violinPanel(479.7,[-.225,5.47],[0,1,2,3,4,5],violinSparc,spikeSparc,cloudSparc,coreSparc,pointsSparc,styleHigh,overlayHigh);
txt(18,1051,'Expression level',{rot:Math.PI/2});txt(236,1051,'Expression level',{rot:Math.PI/2});txt(455,1051,'Expression level',{rot:Math.PI/2});
txt(134,994,'Cilp');txt(351,994,'Postn');txt(570,994,'Sparc');

const chart=echarts.init(document.getElementById('c'),null,{renderer:'canvas',width:673,height:1111});
chart.setOption({animation:false,backgroundColor:'#fff',textStyle:{fontFamily:FONT},tooltip:{show:false},grid,xAxis,yAxis,radar,legend,series,graphic});
</script></body></html>
